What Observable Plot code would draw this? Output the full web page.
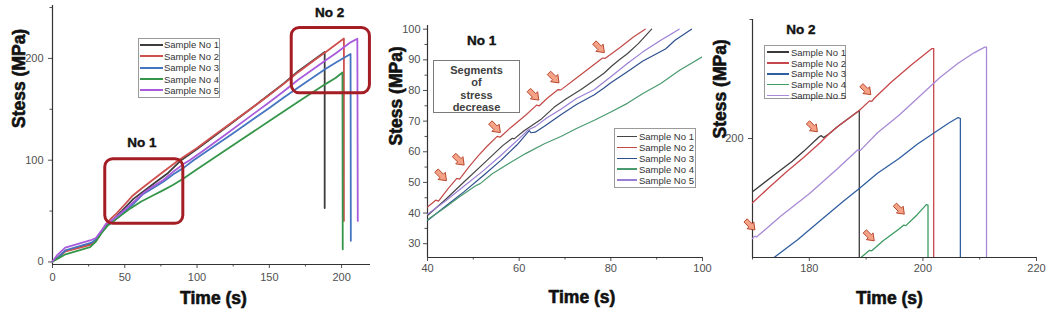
<!DOCTYPE html>
<html><head><meta charset="utf-8">
<script src="https://cdn.jsdelivr.net/npm/d3@7"></script>
<script src="https://cdn.jsdelivr.net/npm/@observablehq/plot@0.6"></script>
<style>
body{margin:0;background:#fff;width:1049px;height:315px;overflow:hidden;position:relative;font-family:"Liberation Sans",Arial,sans-serif;}
.panel{position:absolute;top:0;}
.panel svg{overflow:visible;background:transparent;}
.legend{position:absolute;border:1px solid #9a9a9a;background:#fff;box-sizing:border-box;}
.legend .row{position:absolute;left:0;height:11px;line-height:11px;white-space:nowrap;font-size:9.5px;color:#333;}
.legend .sw{position:absolute;top:50%;}
.note{position:absolute;border:1.5px solid #7a7a7a;background:#fff;box-sizing:border-box;text-align:center;font-weight:bold;font-size:11px;line-height:12.4px;color:#404040;padding-top:3px;}
</style></head>
<body>
<div id="p1" class="panel" style="left:0px"></div>
<div id="p2" class="panel" style="left:380px"></div>
<div id="p3" class="panel" style="left:700px"></div>
<script>
const samples = ["Sample No 1","Sample No 2","Sample No 3","Sample No 4","Sample No 5"];

// Panel 1 (overview) data: [time s, stress MPa]
const overview1 = [[0,0.5],[4,5],[9,11],[27,18],[30,21],[34,29.5],[38,37],[40,39.2],[48,50.2],[56,62],[64,70.5],[72,79],[80,87.5],[89,100],[100,111],[110,121.5],[125,137.5],[140,153.5],[150,164.5],[160,175.5],[170,187.5],[180,197.8],[188.3,206.3],[188.3,53]];
const overview2 = [[0,0.5],[4,4.5],[9,10.5],[27,17],[30,20.5],[34,30],[38,38.5],[40,42],[44.5,48],[49,55],[55,64.5],[61.4,71.9],[69,80.3],[78.5,90.6],[87.5,100.2],[100,112],[110,122.5],[125,138],[140,153.5],[150,164],[160,175],[170,186.5],[182,199.2],[190,207.3],[201.6,219.5],[201.6,40.3]];
const overview3 = [[0,0.5],[4,4.5],[9,11.5],[27,19],[30,22],[34,30],[38,36],[40,37.6],[48,47],[56,57.2],[62.5,66.5],[69.1,72.2],[76.4,78.5],[83.6,86.1],[90.9,92.7],[97.6,100],[110,112],[125,126.5],[140,141.5],[150,151.3],[160,161.5],[173.8,175],[188.8,189.5],[195.8,195.8],[202,201],[206.2,204.4],[206.4,20.8]];
const overview4 = [[0,0.5],[4,3.5],[9,7.5],[26,14.5],[30,20],[34,28.5],[38,35.5],[40,37.8],[47,45.3],[54.2,52.9],[61.4,59.4],[69.1,65],[76.4,70.3],[83.6,75.8],[90.9,82.3],[100,91],[115,105.3],[130,119.5],[150,138.5],[170,157.5],[189.1,175],[195.8,180.7],[200.6,186.1],[200.8,12.4]];
const overview5 = [[0,0.5],[3,6.4],[8.8,14],[27.2,21.8],[30,23.5],[34,31],[37,37.5],[40,39.8],[48,48.8],[56,58.8],[63.5,68.5],[69.1,74],[76.4,80.3],[83.6,88.8],[90.9,96.4],[94.9,100],[105,110],[120,125.5],[140,146.5],[150,157],[160,167.8],[170,179],[188.8,197.9],[195.8,204.9],[206.2,215.8],[210.9,219.4],[211.2,40.3]];

// Panel 2 (No 1 zoom, 40-100 s)
const zoomA1 = [[40,39.2],[44,44.5],[48,50.2],[52,55.8],[56.4,62.0],[58.5,64.4],[58.9,64.2],[61,66.8],[64.7,70.5],[67.6,74.5],[70.2,77.2],[73.5,80.3],[76,82.9],[78.5,85.6],[80.2,88],[82,90.2],[83.6,92],[86,95.3],[88.9,100]];
const zoomA2 = [[40,42.0],[41.8,44.2],[42.4,43.9],[44.5,48.0],[46.4,51.3],[47.0,51.1],[49,55.0],[51,58.6],[53,61.8],[55.2,65.0],[55.9,64.8],[58,67.7],[61.4,71.9],[63.8,75.2],[64.4,75.0],[66,77.3],[68.5,80.3],[69.1,80.2],[72,83.5],[75,86.9],[78.2,90.6],[78.8,90.5],[82,94],[85,97.5],[87.5,100]];
const zoomA3 = [[40,37.6],[44,42.3],[48,47],[52,52],[56,57.2],[59.5,62.2],[62.2,66.9],[62.6,66.2],[63.5,66.4],[65.5,68.3],[69.1,72.1],[72.5,75.4],[76.4,78.6],[78.5,80.8],[80,82.5],[83.6,86.1],[87,89.6],[90.9,92.7],[92,93.6],[94,96.4],[97.6,100]];
const zoomA4 = [[40,37.8],[44,42],[47,45.3],[50.5,48.9],[51.5,49.6],[54.2,52.9],[58,56.4],[61.4,59.4],[65.5,62.6],[69.1,65],[72.5,67.6],[76.4,70.3],[80,73],[83.6,75.8],[87,79],[90.9,82.3],[95,86.6],[100,91]];
const zoomA5 = [[40,39.6],[44,44],[48,48.8],[52,53.6],[56,58.8],[60,64.3],[62,67.2],[63.5,68.2],[66,71],[69.1,73.9],[72.5,77.4],[76.4,80.3],[80,84.5],[83.6,88.8],[87,92.6],[90.9,96.4],[94.9,100]];

// Panel 3 (No 2 zoom, 170-220 s)
const zoomB1 = [[170,188.8],[174.1,192.6],[177,195.2],[179,197.3],[181.7,200.3],[182.1,200.6],[182.5,200.2],[183.5,201.0],[185,202.5],[188.8,205.9],[188.8,53]];
const zoomB2 = [[170,186.5],[173,189.8],[176,193.0],[179,196.0],[182,199.2],[183.5,201.0],[185,202.5],[188.8,205.9],[190.6,207.9],[191.0,207.8],[191.4,208.4],[194.4,211.8],[198,215.5],[201.6,218.9],[201.9,218.9],[201.9,40]];
const zoomB3 = [[173.8,175],[178,178.8],[182,182.8],[186,186.8],[188.8,189.5],[192,192.7],[195.8,195.8],[199,198.8],[202,201.2],[204.5,203.2],[206.2,204.4],[206.6,204.2],[206.6,20.8]];
const zoomB4 = [[189.1,175],[190.6,176.5],[191.0,176.4],[193,178.5],[195.8,181],[196.6,181.8],[197,181.7],[199,184],[200.6,186.1],[200.9,186],[200.9,12.4]];
const zoomB5 = [[170,179],[170.4,179.5],[170.7,179.3],[175,183.7],[180,188.4],[185,193.7],[188.5,197.6],[189,197.5],[192,201.2],[195.8,204.9],[200,209.5],[203,212.8],[206.2,215.8],[209,218],[210.9,219.2],[211.2,219.2],[211.2,40]];

// annotations (data coordinates)
const arrowsA = [[43.05,52.2],[46.9,57.3],[54.8,67.9],[63.2,78.5],[67.6,84.1],[77.5,94.0]];
const arrowsB = [[169.6,181.8],[180.6,202.4],[190.0,210.2],[190.6,179.5],[195.9,185.1]];
const boxes = [{x1:36.5,x2:90.5,y1:37.5,y2:101},{x1:165.5,x2:219.6,y1:165.7,y2:230}];
const labels1 = [{t:61.8,s:117.6,text:"No 1"},{t:191.8,s:245.3,text:"No 2"}];
const labels2 = [{t:51.8,s:96.4,text:"No 1"}];
const labels3 = [{t:178.5,s:222.8,text:"No 2"}];

const colors1 = ["#3d3d3d","#d0504f","#4575c0","#35964a","#a85cdc"];
const colors2 = ["#454545","#c24a48","#2d4f8e","#4a9a70","#9a7fd6"];
const colors3 = ["#3a3a3a","#c8474c","#2f5fa0","#3c9a62","#a88ad6"];

const arrowSymbol = {
  draw(ctx, size) {
    const L = Math.sqrt(size);
    const s = L/2, w1 = L*0.17, w2 = L*0.36, h = L*0.02;
    const pts = [[-s,-w1],[h,-w1],[h,-w2],[s,0],[h,w2],[h,w1],[-s,w1]];
    const c = Math.SQRT1_2;
    pts.forEach(([x,y],i)=>{ const X=(x-y)*c, Y=(x+y)*c; if(i) ctx.lineTo(X,Y); else ctx.moveTo(X,Y); });
    ctx.closePath();
  }
};

const fx = d => d[0], fy = d => d[1];
const titleStyle = {fontSize: 17.5, fontWeight: "bold", fill: "#111", stroke: "#111", strokeWidth: 0.6, fontFamily: "Liberation Sans, Arial, sans-serif"};
const noStyle = {fontSize: 13.5, fontWeight: "bold", fill: "#111", stroke: "#111", strokeWidth: 0.4};

function axisMarks(o) {
  return [
    Plot.axisX({ticks: o.xMajor, tickSize: 4, tickPadding: o.xPad, fontSize: 11, label: null, tickFormat: o.xFmt || (d=>d)}),
    Plot.axisX({ticks: o.xMinor, tickSize: 2.5, label: null, tickFormat: () => ""}),
    Plot.axisY({ticks: o.yMajor, tickSize: 4, tickPadding: o.yPad, fontSize: 11, label: null, tickFormat: o.yFmt || (d=>d)}),
    Plot.axisY({ticks: o.yMinor, tickSize: 2.5, label: null, tickFormat: () => ""}),
    Plot.ruleX([o.x0], {stroke: "#333", strokeWidth: 1.2}),
    Plot.ruleY([o.y0], {stroke: "#333", strokeWidth: 1.2}),
    Plot.text(["Time (s)"], {text: d=>d, frameAnchor: "bottom", dx: o.tdx, dy: o.tdy, ...titleStyle}),
    Plot.text(["Stess (MPa)"], {text: d=>d, frameAnchor: "left", dx: o.sdx, dy: o.sdy, rotate: -90, ...titleStyle})
  ];
}
const plotStyle = {fontFamily: "Liberation Sans, Arial, sans-serif", fontSize: "11px", color: "#505050", background: "transparent", overflow: "visible"};

// Panel 1
const p1 = Plot.plot({
  width: 380, height: 315, marginLeft: 52, marginRight: 10, marginTop: 5, marginBottom: 51,
  x: {domain: [0, 220]}, y: {domain: [-2.5, 252]}, style: plotStyle,
  marks: [
    ...axisMarks({xMajor:[0,50,100,150,200], xMinor:[25,75,125,175], yMajor:[0,100,200], yMinor:[50,150,250], xPad:5, yPad:5, x0:0, y0:-2.5, tdx:2, tdy:39, sdx:-33.5, sdy:-7}),
    ...[overview1,overview2,overview3,overview4,overview5].map((a,i)=>Plot.line(a,{x:fx,y:fy,stroke:colors1[i],strokeWidth:1.8})),
    Plot.rect(boxes, {x1:"x1",x2:"x2",y1:"y1",y2:"y2",fill:"none",stroke:"#a51d24",strokeWidth:3,rx:8}),
    Plot.text(labels1, {x:"t",y:"s",text:"text",...noStyle})
  ]
});
document.getElementById("p1").append(p1);

// Panel 2
const p2 = Plot.plot({
  width: 335, height: 315, marginLeft: 47, marginRight: 13, marginTop: 25, marginBottom: 58,
  x: {domain: [40, 100]}, y: {domain: [25.5, 101.2]}, style: plotStyle,
  marks: [
    ...axisMarks({xMajor:[40,60,80,100], xMinor:[50,70,90], yMajor:[30,40,50,60,70,80,90,100], yMinor:[35,45,55,65,75,85,95], xPad:3, yPad:3, x0:40, y0:25.5, tdx:17, tdy:45, sdx:-31, sdy:4}),
    ...[zoomA1,zoomA2,zoomA3,zoomA4,zoomA5].map((a,i)=>Plot.line(a,{x:fx,y:fy,stroke:colors2[i],strokeWidth:1.2,clip:true})),
    Plot.dot(arrowsA, {x:fx,y:fy,symbol:arrowSymbol,r:8,fill:"#f4a386",stroke:"#b9472f",strokeWidth:1}),
    Plot.text(labels2, {x:"t",y:"s",text:"text",...noStyle})
  ]
});
document.getElementById("p2").append(p2);

// Panel 3
const p3 = Plot.plot({
  width: 349, height: 315, marginLeft: 52, marginRight: 13, marginTop: 19, marginBottom: 58,
  x: {domain: [170, 220]}, y: {domain: [175, 225]}, style: plotStyle,
  marks: [
    ...axisMarks({xMajor:[180,200,220], xMinor:[170,190,210], yMajor:[200], yMinor:[225], xPad:3, yPad:5, x0:170, y0:175, tdx:-5, tdy:46, sdx:-32, sdy:0}),
    ...[zoomB1,zoomB2,zoomB3,zoomB4,zoomB5].map((a,i)=>Plot.line(a,{x:fx,y:fy,stroke:colors3[i],strokeWidth:1.3,clip:true})),
    Plot.dot(arrowsB, {x:fx,y:fy,symbol:arrowSymbol,r:7.5,fill:"#f4a386",stroke:"#b9472f",strokeWidth:1}),
    Plot.text(labels3, {x:"t",y:"s",text:"text",...noStyle})
  ]
});
document.getElementById("p3").append(p3);

// Legends (HTML overlays inside plot areas)
function legend(box, rows, line, textX, colors, lw) {
  const d = document.createElement("div");
  d.className = "legend";
  Object.assign(d.style, {left: box[0]+"px", top: box[1]+"px", width: box[2]+"px", height: box[3]+"px"});
  samples.forEach((name, i) => {
    const r = document.createElement("div");
    r.className = "row";
    r.style.top = (rows[0] + i*rows[1] - 5.5) + "px";
    r.style.width = box[2] + "px";
    const sw = document.createElement("div");
    sw.className = "sw";
    Object.assign(sw.style, {left: line[0]+"px", width: (line[1]-line[0])+"px", height: lw+"px", marginTop: (-lw/2)+"px", background: colors[i]});
    const t = document.createElement("span");
    t.textContent = name;
    Object.assign(t.style, {position: "absolute", left: textX + "px"});
    r.append(sw, t);
    d.append(r);
  });
  document.body.append(d);
}
legend([138, 38, 82, 60], [5.8, 11.4], [1, 23.5], 25, colors1, 2.2);
legend([614, 128, 82, 60], [7.5, 10.9], [2, 22], 24, colors2, 1.6);
legend([764, 45, 82, 54], [6.2, 10.8], [1.5, 23.5], 26, colors3, 1.6);

const note = document.createElement("div");
note.className = "note";
Object.assign(note.style, {left: "433px", top: "60px", width: "87px", height: "53px"});
note.innerHTML = "Segments<br>of<br>stress<br>decrease";
document.body.append(note);
</script>
</body></html>
